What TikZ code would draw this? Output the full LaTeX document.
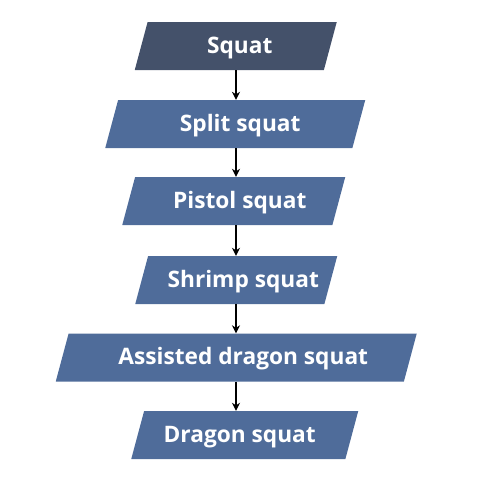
\documentclass[tikz,border=0pt]{standalone}
\usepackage{fontspec}
\setmainfont{Open Sans}
\usepackage{tikz}
\usetikzlibrary{shapes.geometric,arrows.meta}
\definecolor{stepdark}{HTML}{44516A}
\definecolor{stepblue}{HTML}{4F6C9A}
\tikzset{
  level/.style={trapezium, trapezium left angle=75, trapezium right angle=105,
    trapezium stretches body, text height=19pt, text depth=5pt,
    inner ysep=12pt, inner xsep=0pt,
    execute at begin node=\hspace*{#1},
    fill=stepblue, text=white, font=\bfseries\fontsize{22.7}{26}\selectfont},
  level/.default=10pt,
  link/.style={-{Stealth[length=8pt,width=8pt]}, line width=1.2pt}
}

\begin{document}
\begin{tikzpicture}[x=1pt,y=-1pt]
\useasboundingbox (0,0) rectangle (478,504);
\coordinate (axis) at (236,0);
\node[level=8pt, fill=stepdark, minimum width=202pt] (squat) at (235.75,46) {Squat};
\node[level=10pt, minimum width=260pt] (split) at (235.25,124) {Split squat};
\node[level=12pt, minimum width=223pt] (pistol) at (233.75,201) {Pistol squat};
\node[level=14pt, minimum width=202pt] (shrimp) at (236.25,280) {Shrimp squat};
\node[level=14pt, minimum width=361pt] (assisted) at (236.25,357.5) {Assisted dragon squat};
\node[level=-10pt, minimum width=227pt] (dragon) at (244.75,435) {Dragon squat};
\draw[link] (axis |- squat.south) -- (axis |- split.north);
\draw[link] (axis |- split.south) -- (axis |- pistol.north);
\draw[link] (axis |- pistol.south) -- (axis |- shrimp.north);
\draw[link] (axis |- shrimp.south) -- (axis |- assisted.north);
\draw[link] (axis |- assisted.south) -- (axis |- dragon.north);
\end{tikzpicture}
\end{document}
